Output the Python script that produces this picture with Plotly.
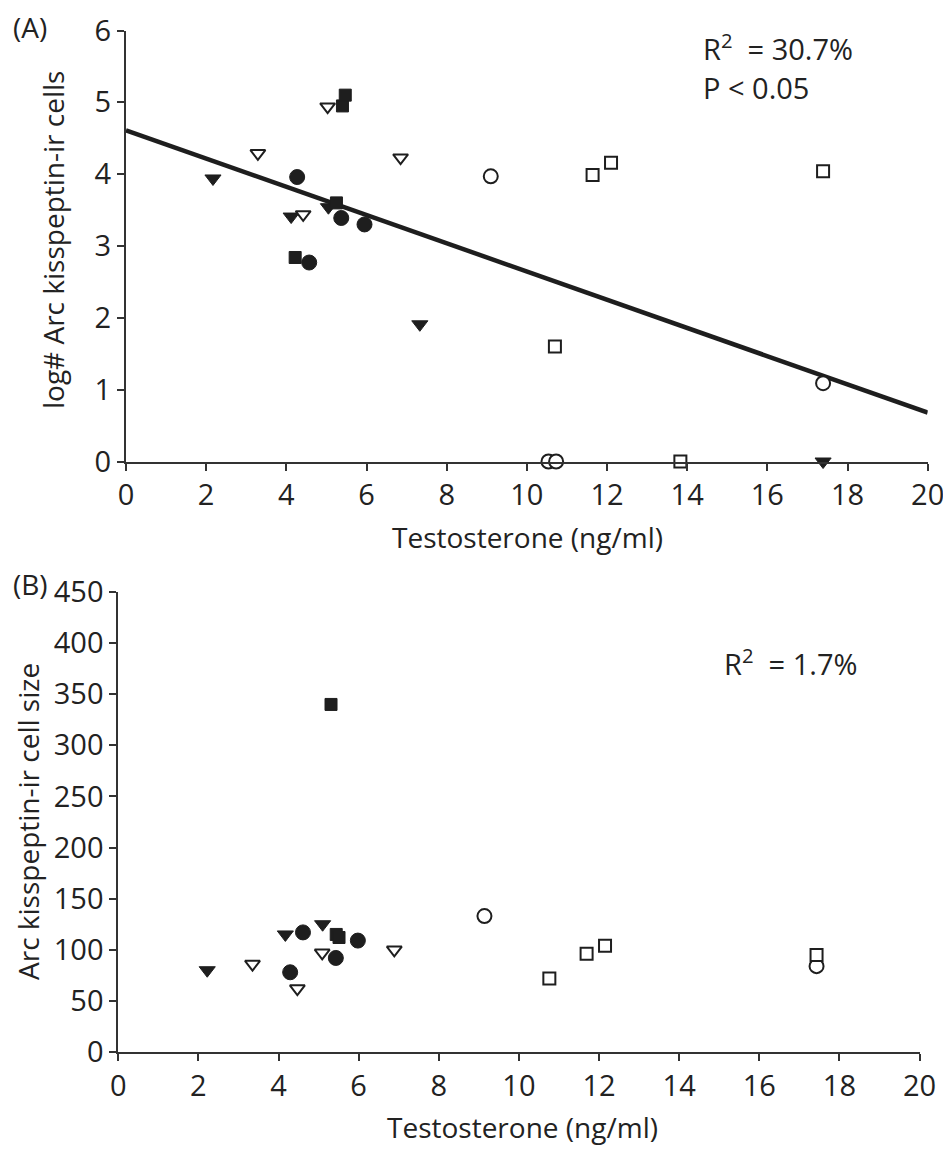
import plotly.graph_objects as go

# ---------------- Panel A data: log# Arc kisspeptin-ir cells vs testosterone
ft_a_x = [2.17, 4.12, 5.05, 7.33, 17.39]
ft_a_y = [3.94, 3.41, 3.54, 1.91, 0.0]
ot_a_x = [3.29, 4.42, 5.03, 6.85]
ot_a_y = [4.29, 3.44, 4.94, 4.23]
fc_a_x = [4.27, 4.57, 5.37, 5.95]
fc_a_y = [3.96, 2.77, 3.39, 3.30]
fs_a_x = [4.22, 5.25, 5.40, 5.47]
fs_a_y = [2.84, 3.60, 4.95, 5.10]
oc_a_x = [9.10, 10.54, 10.73, 17.39]
oc_a_y = [3.97, 0.0, 0.0, 1.09]
os_a_x = [10.70, 11.64, 12.10, 13.83, 17.39]
os_a_y = [1.60, 3.99, 4.16, 0.0, 4.04]

fit_intercept = 4.61
fit_slope = -0.1965
fit_x = [0, 20]

# ---------------- Panel B data: Arc kisspeptin-ir cell size vs testosterone
ft_b_x = [2.22, 4.17, 5.10]
ft_b_y = [80, 115, 125]
ot_b_x = [3.35, 4.47, 5.09, 6.89]
ot_b_y = [86, 62, 97, 100]
fc_b_x = [4.29, 4.61, 5.43, 5.98]
fc_b_y = [78, 117, 92, 109]
fs_b_x = [5.31, 5.44, 5.51]
fs_b_y = [340, 115, 112]
oc_b_x = [9.14, 17.43]
oc_b_y = [133, 84]
os_b_x = [10.76, 11.69, 12.15, 17.43]
os_b_y = [72, 96, 104, 95]

x_ticks = list(range(0, 21, 2))
ya_ticks = list(range(0, 7))
yb_ticks = list(range(0, 451, 50))

DARK = "#1e1e1e"
AX = "#333333"
FONT = "Open Sans"
TICK_FS = 29
TITLE_FS = 28
NOTE_FS = 29

OFF = 8  # page body margin
W, H = 951 - OFF, 1151 - OFF

fig = go.Figure()


def add_group(xs, ys, symbol, size, filled, xa, ya):
    fig.add_trace(go.Scatter(
        x=xs, y=ys, mode="markers", xaxis=xa, yaxis=ya, cliponaxis=False,
        showlegend=False, hoverinfo="skip",
        marker=dict(symbol=symbol, size=size,
                    color=DARK if filled else "white",
                    line=dict(color=DARK, width=1 if filled else 2)),
    ))


# Panel A
fig.add_trace(go.Scatter(
    x=fit_x, y=[fit_intercept + fit_slope * v for v in fit_x], mode="lines",
    xaxis="x", yaxis="y", showlegend=False, hoverinfo="skip", cliponaxis=False,
    line=dict(color=DARK, width=4.5)))
add_group(ft_a_x, ft_a_y, "triangle-down", 14, True, "x", "y")
add_group(ot_a_x, ot_a_y, "triangle-down", 13, False, "x", "y")
add_group(fc_a_x, fc_a_y, "circle", 15, True, "x", "y")
add_group(fs_a_x, fs_a_y, "square", 12, True, "x", "y")
add_group(oc_a_x, oc_a_y, "circle", 14, False, "x", "y")
add_group(os_a_x, os_a_y, "square", 12, False, "x", "y")

# Panel B
add_group(ft_b_x, ft_b_y, "triangle-down", 14, True, "x2", "y2")
add_group(ot_b_x, ot_b_y, "triangle-down", 13, False, "x2", "y2")
add_group(fc_b_x, fc_b_y, "circle", 15, True, "x2", "y2")
add_group(fs_b_x, fs_b_y, "square", 12, True, "x2", "y2")
add_group(oc_b_x, oc_b_y, "circle", 14, False, "x2", "y2")
add_group(os_b_x, os_b_y, "square", 12, False, "x2", "y2")

axis_common = dict(
    showline=True, linecolor=AX, linewidth=2, showgrid=False, zeroline=False,
    ticks="outside", ticklen=7, tickwidth=2, tickcolor=AX, automargin=False,
    tickfont=dict(family=FONT, size=TICK_FS, color="#222"),
)


def fx(px):
    return (px - OFF) / W


def fy(py):
    return 1 - (py - OFF) / H


fig.update_layout(
    width=W, height=H,
    margin=dict(l=0, r=0, t=0, b=0, pad=0, autoexpand=False),
    paper_bgcolor="white", plot_bgcolor="white",
    font=dict(family=FONT, color="#222"),
    xaxis=dict(domain=[fx(126), fx(927.7)], range=[0, 20], tickvals=x_ticks,
               anchor="y", **axis_common),
    yaxis=dict(domain=[fy(461.5), fy(30.5)], range=[0, 6], tickvals=ya_ticks,
               anchor="x", **axis_common),
    xaxis2=dict(domain=[fx(118.3), fx(919.5)], range=[0, 20], tickvals=x_ticks,
                anchor="y2", **axis_common),
    yaxis2=dict(domain=[fy(1052), fy(592)], range=[0, 450], tickvals=yb_ticks,
                anchor="x2", **axis_common),
)


def txt(text, x, y, size=TITLE_FS, angle=0, xanchor="center"):
    fig.add_annotation(text=text, x=fx(x), y=fy(y), xref="paper", yref="paper",
                       showarrow=False, textangle=angle, xanchor=xanchor, yanchor="middle",
                       borderpad=0, font=dict(family=FONT, size=size, color="#222"))


txt("(A)", 30, 27)
txt("(B)", 30, 584)
txt("log# Arc kisspeptin-ir cells", 53, 240, angle=-90)
txt("Arc kisspeptin-ir cell size", 28, 822, angle=-90)
txt("Testosterone (ng/ml)", 527, 537)
txt("Testosterone (ng/ml)", 522, 1127)
txt("R<sup>2</sup>&nbsp;&nbsp;=&nbsp;30.7%", 702, 47, size=NOTE_FS, xanchor="left")
txt("P&nbsp;&lt;&nbsp;0.05", 702, 88, size=NOTE_FS, xanchor="left")
txt("R<sup>2</sup>&nbsp;&nbsp;=&nbsp;1.7%", 723, 662, size=NOTE_FS, xanchor="left")

fig.write_html("out.html")
